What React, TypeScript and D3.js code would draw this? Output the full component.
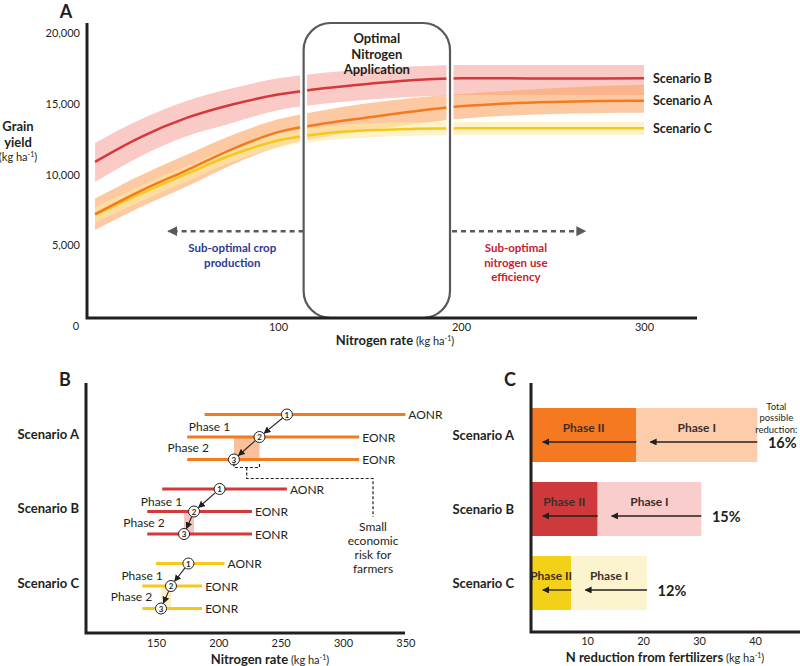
import React, { useEffect, useRef } from 'react';
import * as d3 from 'd3';

// ---- Panel A: grain yield response to N rate ----
const nRates = [0, 25, 50, 75, 100, 125, 150, 175, 200, 225, 250, 275, 300];
const yieldA = [7200, 8850, 10300, 11800, 13000, 13600, 14050, 14480, 14820, 15020, 15130, 15190, 15220];
const yieldALow = [6080, 7700, 9150, 10700, 11950, 12650, 13150, 13580, 13950, 14150, 14280, 14340, 14360];
const yieldAHigh = [8300, 9950, 11400, 12800, 13900, 14550, 15050, 15420, 15700, 15900, 16100, 16250, 16350];
const yieldB = [10900, 12650, 14000, 14950, 15650, 16100, 16420, 16680, 16800, 16800, 16790, 16790, 16800];
const yieldBLow = [9480, 11300, 12700, 13650, 14550, 15000, 15300, 15500, 15600, 15630, 15630, 15630, 15630];
const yieldBHigh = [12230, 13900, 15200, 16100, 16800, 17200, 17450, 17650, 17750, 17750, 17750, 17750, 17750];
const yieldC = [7150, 8650, 10050, 11400, 12400, 12900, 13130, 13230, 13270, 13270, 13270, 13270, 13270];
const yieldCLow = [6600, 8100, 9500, 10900, 11900, 12400, 12640, 12750, 12800, 12800, 12800, 12800, 12800];
const yieldCHigh = [7700, 9200, 10600, 11900, 12900, 13400, 13630, 13700, 13720, 13720, 13720, 13720, 13720];
const yieldTicks = [5000, 10000, 15000, 20000];
const rateTicksA = [100, 200, 300];
const optimalRange = [114, 194];

// ---- Panel B: AONR / EONR shifts ----
const scenarios = ['Scenario A', 'Scenario B', 'Scenario C'];
const aonrRange = [[189, 350], [155, 255], [150, 205]];
const eonrRange = [[175, 313], [143, 227], [139, 187]];
const aonrPoint = [255, 201, 176];
const phase1Point = [233, 180.5, 162];
const phase2Point = [212.5, 172.5, 154];
const rateTicksB = [150, 200, 250, 300, 350];
// where the "Phase 1" / "Phase 2" captions end, in N rate units
const phase1LabelEnd = [209.5, 171, 155.5];
const phase2LabelEnd = [192.5, 157, 147];

// ---- Panel C: N reduction ----
const phaseIIReduction = [18.8, 11.9, 7.2];
const totalReduction = [40.4, 30.4, 20.7];
const reductionPct = ['16%', '15%', '12%'];
const reductionTicks = [10, 20, 30, 40];

const ink = '#231f20';
const lineColor = ['#f47a20', '#d3393a', '#f6c81a'];
const shadeColor = ['#f9c09a', '#f6c3c3', '#fbefc3'];
const phaseIIColor = ['#f47920', '#ce3a3b', '#f4d119'];
const phaseIColor = ['#fdcdab', '#f9cdcc', '#fcf3cf'];

const font = 'Lato, "Open Sans", sans-serif';

export default function App() {
  const ref = useRef<SVGSVGElement>(null);

  useEffect(() => {
    const svg = d3.select(ref.current);
    svg.selectAll('*').remove();

    const defs = svg.append('defs');
    const marker = (id: string, color: string, size: number) =>
      defs.append('marker')
        .attr('id', id)
        .attr('markerUnits', 'userSpaceOnUse')
        .attr('viewBox', '0 0 10 10')
        .attr('refX', 9).attr('refY', 5)
        .attr('markerWidth', size).attr('markerHeight', size)
        .attr('orient', 'auto')
        .append('path').attr('d', 'M0,0 L10,5 L0,10 Z').attr('fill', color);
    marker('headInk', ink, 7);
    marker('headGrey', '#58595b', 10);

    // title with "(kg ha-1)" unit suffix
    const unitTitle = (g: any, x: number, y: number, label: string) => {
      const t = g.append('text').attr('x', x).attr('y', y).attr('text-anchor', 'middle').attr('fill', ink);
      t.append('tspan').attr('font-weight', 700).attr('font-size', 13).text(label);
      t.append('tspan').attr('font-size', 11).text('  (kg ha');
      t.append('tspan').attr('font-size', 7).attr('dy', -4).text('-1');
      t.append('tspan').attr('font-size', 11).attr('dy', 4).text(')');
      return t;
    };

    const panelLabel = (x: number, y: number, s: string) =>
      svg.append('text').attr('x', x).attr('y', y).attr('text-anchor', 'middle')
        .attr('font-weight', 700).attr('font-size', 18).attr('fill', ink).text(s);

    // ================= Panel A =================
    const xA = d3.scaleLinear().domain([-4.4, 329]).range([87, 697]);
    const yA = d3.scaleLinear().domain([-140, 20640]).range([318, 24]);
    const gA = svg.append('g');

    const band = (lo: number[], hi: number[]) =>
      d3.area<number>()
        .x(d => xA(d))
        .y0((d, i) => yA(lo[i]))
        .y1((d, i) => yA(hi[i]))
        .curve(d3.curveMonotoneX)(nRates);
    const curve = (vals: number[]) =>
      d3.line<number>().x(d => xA(d)).y((d, i) => yA(vals[i])).curve(d3.curveMonotoneX)(nRates);

    gA.append('path').attr('d', band(yieldBLow, yieldBHigh)).attr('fill', '#f9cac6');
    gA.append('path').attr('d', band(yieldALow, yieldAHigh)).attr('fill', 'rgb(250,165,100)').attr('fill-opacity', 0.6);
    gA.append('path').attr('d', band(yieldCLow, yieldCHigh)).attr('fill', 'rgb(251,235,160)').attr('fill-opacity', 0.6);
    gA.append('path').attr('d', curve(yieldB)).attr('fill', 'none').attr('stroke', lineColor[1]).attr('stroke-width', 2.5);
    gA.append('path').attr('d', curve(yieldC)).attr('fill', 'none').attr('stroke', lineColor[2]).attr('stroke-width', 2.5);
    gA.append('path').attr('d', curve(yieldA)).attr('fill', 'none').attr('stroke', lineColor[0]).attr('stroke-width', 2.5);

    // optimal application window
    const bx0 = xA(optimalRange[0]);
    const bx1 = xA(optimalRange[1]);
    gA.append('rect').attr('x', bx0).attr('y', 23).attr('width', bx1 - bx0).attr('height', 295)
      .attr('rx', 27).attr('fill', 'none').attr('stroke', '#fff').attr('stroke-width', 7);
    gA.append('rect').attr('x', bx0).attr('y', 23).attr('width', bx1 - bx0).attr('height', 295)
      .attr('rx', 27).attr('fill', 'none').attr('stroke', '#58595b').attr('stroke-width', 2.2);
    ['Optimal', 'Nitrogen', 'Application'].forEach((s, i) =>
      gA.append('text').attr('x', (bx0 + bx1) / 2).attr('y', 43 + i * 15.5).attr('text-anchor', 'middle')
        .attr('font-weight', 700).attr('font-size', 13).attr('fill', ink).text(s));

    // dashed arrows either side of the window
    const ay = yA(6000);
    gA.append('line').attr('x1', bx0).attr('x2', xA(40)).attr('y1', ay).attr('y2', ay)
      .attr('stroke', '#58595b').attr('stroke-width', 2.5).attr('stroke-dasharray', '5,4')
      .attr('marker-end', 'url(#headGrey)');
    gA.append('line').attr('x1', bx1 + 2).attr('x2', xA(268)).attr('y1', ay).attr('y2', ay)
      .attr('stroke', '#58595b').attr('stroke-width', 2.5).attr('stroke-dasharray', '5,4')
      .attr('marker-end', 'url(#headGrey)');
    ['Sub-optimal crop', 'production'].forEach((s, i) =>
      gA.append('text').attr('x', xA(75)).attr('y', 252 + i * 14.5).attr('text-anchor', 'middle')
        .attr('font-weight', 700).attr('font-size', 11.5).attr('fill', '#2b3990').text(s));
    ['Sub-optimal', 'nitrogen use', 'efficiency'].forEach((s, i) =>
      gA.append('text').attr('x', xA(230)).attr('y', 252 + i * 14.5).attr('text-anchor', 'middle')
        .attr('font-weight', 700).attr('font-size', 11.5).attr('fill', '#c8202f').text(s));

    // scenario labels at curve ends
    [[yieldB, 'Scenario B'], [yieldA, 'Scenario A'], [yieldC, 'Scenario C']].forEach(([vals, s]: any) =>
      gA.append('text').attr('x', xA(300) + 9).attr('y', yA(vals[vals.length - 1]) + 4.5)
        .attr('font-weight', 700).attr('font-size', 12.5).attr('fill', ink).text(s));

    // axes
    const axA = gA.append('g').attr('transform', 'translate(87,0)')
      .call(d3.axisLeft(yA).tickValues(yieldTicks).tickSize(0).tickPadding(7).tickFormat(d3.format(',')));
    axA.select('.domain').remove();
    const axAx = gA.append('g').attr('transform', 'translate(0,318)')
      .call(d3.axisBottom(xA).tickValues(rateTicksA).tickSize(0).tickPadding(5));
    axAx.select('.domain').remove();
    gA.selectAll('.tick text').attr('font-family', font).attr('font-size', 11).attr('fill', ink);
    gA.append('text').attr('x', 76).attr('y', 330).attr('text-anchor', 'middle')
      .attr('font-size', 11).attr('fill', ink).text('0');
    gA.append('path').attr('d', 'M87,23 V318 H697').attr('fill', 'none').attr('stroke', ink).attr('stroke-width', 3);

    ['Grain', 'yield'].forEach((s, i) =>
      gA.append('text').attr('x', 18).attr('y', 131 + i * 16).attr('text-anchor', 'middle')
        .attr('font-weight', 700).attr('font-size', 13).attr('fill', ink).text(s));
    const yu = gA.append('text').attr('x', 18).attr('y', 161).attr('text-anchor', 'middle').attr('fill', ink);
    yu.append('tspan').attr('font-size', 11).text('(kg ha');
    yu.append('tspan').attr('font-size', 7).attr('dy', -4).text('-1');
    yu.append('tspan').attr('font-size', 11).attr('dy', 4).text(')');
    unitTitle(gA, 395, 345, 'Nitrogen rate');
    panelLabel(66, 18, 'A');

    // ================= Panel B =================
    const xB = d3.scaleLinear().domain([150, 300]).range([156, 343]);
    const rowY = d3.scalePoint<string>().domain(scenarios).range([437, 586]);
    const gB = svg.append('g');
    const step = 22.5;

    scenarios.forEach((sc, i) => {
      const cy = rowY(sc)!;
      const ys = [cy - step, cy, cy + step];
      // shaded shift between phase 1 and phase 2 EONR
      gB.append('rect').attr('x', xB(phase2Point[i])).attr('y', ys[1])
        .attr('width', xB(phase1Point[i]) - xB(phase2Point[i])).attr('height', step)
        .attr('fill', shadeColor[i]);
      const ranges = [aonrRange[i], eonrRange[i], eonrRange[i]];
      const tags = ['AONR', 'EONR', 'EONR'];
      ranges.forEach((r, k) => {
        gB.append('line').attr('x1', xB(r[0])).attr('x2', xB(r[1])).attr('y1', ys[k]).attr('y2', ys[k])
          .attr('stroke', lineColor[i]).attr('stroke-width', 3);
        gB.append('text').attr('x', xB(r[1]) + 3).attr('y', ys[k] + 4.5)
          .attr('font-size', 12).attr('fill', ink).text(tags[k]);
      });
      const pts = [aonrPoint[i], phase1Point[i], phase2Point[i]].map((p, k) => [xB(p), ys[k]]);
      const r = 5.5;
      for (let k = 0; k < 2; k++) {
        const [x1, y1] = pts[k];
        const [x2, y2] = pts[k + 1];
        const len = Math.hypot(x2 - x1, y2 - y1);
        const ux = (x2 - x1) / len;
        const uy = (y2 - y1) / len;
        gB.append('line')
          .attr('x1', x1 + ux * r).attr('y1', y1 + uy * r)
          .attr('x2', x2 - ux * (r + 0.5)).attr('y2', y2 - uy * (r + 0.5))
          .attr('stroke', ink).attr('stroke-width', 1.1).attr('marker-end', 'url(#headInk)');
      }
      pts.forEach(([px, py], k) => {
        gB.append('circle').attr('cx', px).attr('cy', py).attr('r', r)
          .attr('fill', '#fff').attr('stroke', ink).attr('stroke-width', 1);
        gB.append('text').attr('x', px).attr('y', py + 3).attr('text-anchor', 'middle')
          .attr('font-size', 8).attr('font-weight', 700).attr('fill', ink).text(String(k + 1));
      });
      gB.append('text').attr('x', xB(phase1LabelEnd[i])).attr('y', cy - 6)
        .attr('text-anchor', 'end').attr('font-size', 12).attr('fill', ink).text('Phase 1');
      gB.append('text').attr('x', xB(phase2LabelEnd[i])).attr('y', cy + 15)
        .attr('text-anchor', 'end').attr('font-size', 12).attr('fill', ink).text('Phase 2');
      gB.append('text').attr('x', 79).attr('y', cy + 1.5).attr('text-anchor', 'end')
        .attr('font-weight', 700).attr('font-size', 13).attr('fill', ink).text(sc);
    });

    // economic risk callout for scenario A
    {
      const cy = rowY(scenarios[0])! + step;
      const xa = xB(phase2Point[0]);
      const xb = xB(phase1Point[0]);
      const xm = (xa + xb) / 2;
      const d = `M${xa},${cy + 4} V${cy + 8} H${xb} V${cy + 4} M${xm},${cy + 8} V${cy + 19} H373 V517`;
      gB.append('path').attr('d', d).attr('fill', 'none').attr('stroke', ink)
        .attr('stroke-width', 1.2).attr('stroke-dasharray', '3,2');
      ['Small', 'economic', 'risk for', 'farmers'].forEach((s, k) =>
        gB.append('text').attr('x', 373).attr('y', 531 + k * 14).attr('text-anchor', 'middle')
          .attr('font-size', 12).attr('fill', ink).text(s));
    }

    const axB = gB.append('g').attr('transform', 'translate(0,633)')
      .call(d3.axisBottom(xB).tickValues(rateTicksB).tickSize(0).tickPadding(6));
    axB.select('.domain').remove();
    axB.selectAll('.tick text').attr('font-family', font).attr('font-size', 11).attr('fill', ink);
    gB.append('path').attr('d', 'M86,383 V633 H405').attr('fill', 'none').attr('stroke', ink).attr('stroke-width', 3);
    unitTitle(gB, 270, 664, 'Nitrogen rate');
    panelLabel(65, 386, 'B');

    // ================= Panel C =================
    const xC = d3.scaleLinear().domain([0, 48.2]).range([531, 801]);
    const yC = d3.scaleBand<string>().domain(scenarios).range([398, 620]).paddingInner(0.27).paddingOuter(0.135);
    const gC = svg.append('g');

    scenarios.forEach((sc, i) => {
      const top = yC(sc)!;
      const h = yC.bandwidth();
      const p2 = phaseIIReduction[i];
      const tot = totalReduction[i];
      gC.append('rect').attr('x', xC(0)).attr('y', top).attr('width', xC(p2) - xC(0)).attr('height', h)
        .attr('fill', phaseIIColor[i]);
      gC.append('rect').attr('x', xC(p2)).attr('y', top).attr('width', xC(tot) - xC(p2)).attr('height', h)
        .attr('fill', phaseIColor[i]);
      gC.append('text').attr('x', (xC(0) + xC(p2)) / 2).attr('y', top + 24).attr('text-anchor', 'middle')
        .attr('font-weight', 700).attr('font-size', 12).attr('fill', '#3c2f2a').text('Phase II');
      gC.append('text').attr('x', (xC(p2) + xC(tot)) / 2).attr('y', top + 24).attr('text-anchor', 'middle')
        .attr('font-weight', 700).attr('font-size', 12).attr('fill', '#3c2f2a').text('Phase I');
      const ay2 = top + 34;
      gC.append('line').attr('x1', xC(tot)).attr('x2', xC(p2 + 2.5)).attr('y1', ay2).attr('y2', ay2)
        .attr('stroke', ink).attr('stroke-width', 1.3).attr('marker-end', 'url(#headInk)');
      gC.append('line').attr('x1', xC(p2)).attr('x2', xC(2.1)).attr('y1', ay2).attr('y2', ay2)
        .attr('stroke', ink).attr('stroke-width', 1.3).attr('marker-end', 'url(#headInk)');
      gC.append('text').attr('x', xC(tot) + 25).attr('y', ay2 + 6.5).attr('text-anchor', 'middle')
        .attr('font-weight', 700).attr('font-size', 14.5).attr('fill', ink).text(reductionPct[i]);
      if (i === 0) {
        ['Total', 'possible', 'reduction:'].forEach((s, k) =>
          gC.append('text').attr('x', xC(tot) + 19).attr('y', top + 2 + k * 11.5).attr('text-anchor', 'middle')
            .attr('font-size', 9.5).attr('fill', ink).text(s));
      }
      gC.append('text').attr('x', 514).attr('y', top + h / 2 + 4.5).attr('text-anchor', 'end')
        .attr('font-weight', 700).attr('font-size', 13).attr('fill', ink).text(sc);
    });

    const axC = gC.append('g').attr('transform', 'translate(0,632)')
      .call(d3.axisBottom(xC).tickValues(reductionTicks).tickSize(0).tickPadding(5));
    axC.select('.domain').remove();
    axC.selectAll('.tick text').attr('font-family', font).attr('font-size', 11).attr('fill', ink);
    gC.append('path').attr('d', 'M531,383 V632 H800').attr('fill', 'none').attr('stroke', ink).attr('stroke-width', 3);
    unitTitle(gC, 665, 662, 'N reduction from fertilizers');
    panelLabel(510, 386, 'C');
  }, []);

  return (
    <div style={{ position: 'absolute', left: 0, top: 0 }}>
      <svg ref={ref} width={800} height={666} style={{ display: 'block', fontFamily: font, background: '#fff' }} />
    </div>
  );
}
